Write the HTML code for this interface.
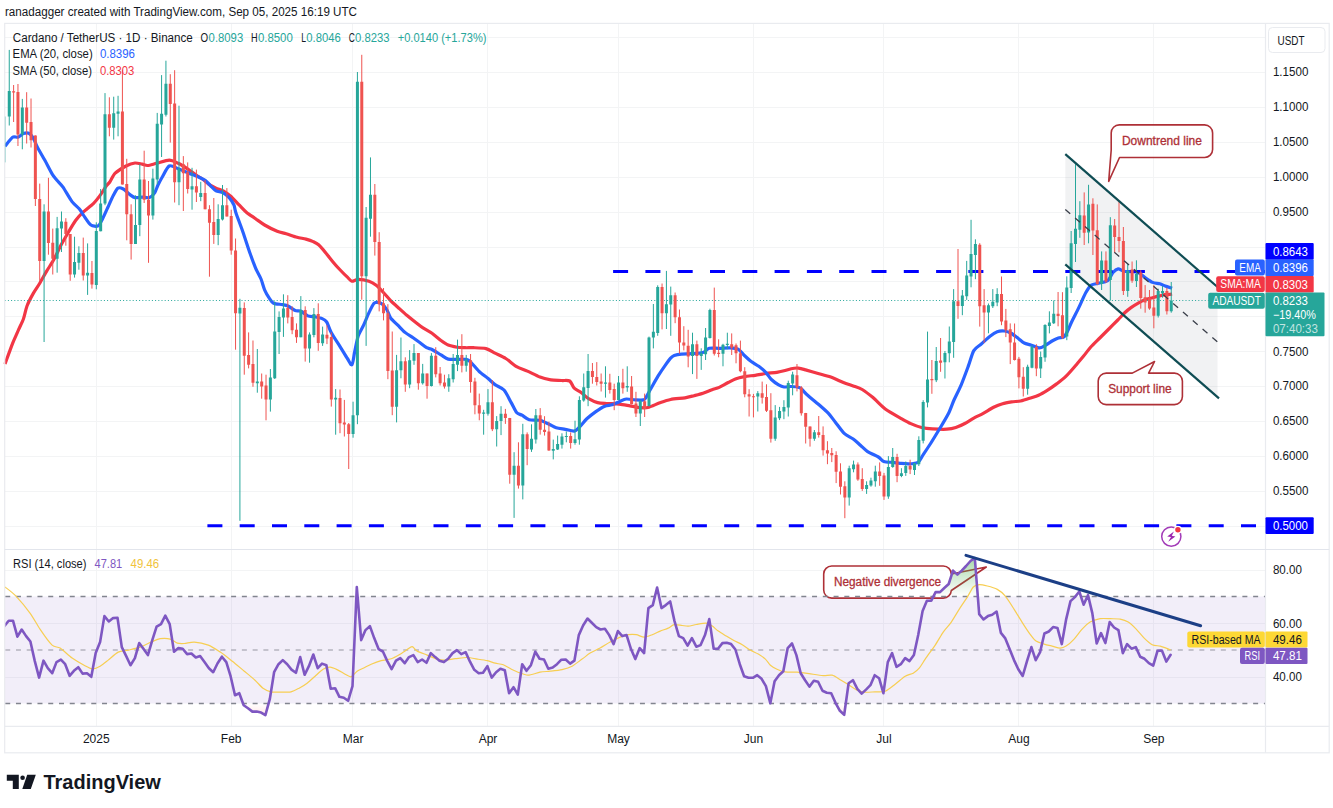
<!DOCTYPE html>
<html lang="en"><head><meta charset="utf-8"><title>ADAUSDT chart</title><style>html,body{margin:0;padding:0;background:#fff}svg{display:block}</style></head><body>
<svg width="1333" height="808" viewBox="0 0 1333 808" font-family='"Liberation Sans", "DejaVu Sans", sans-serif'>
<rect width="1333" height="808" fill="#ffffff"/>
<defs><clipPath id="plot"><rect x="5.2" y="23.4" width="1260.3" height="703.0"/></clipPath></defs>
<text x="5" y="15.6" font-size="12" fill="#131722" textLength="352" lengthAdjust="spacingAndGlyphs">ranadagger created with TradingView.com, Sep 05, 2025 16:19 UTC</text>
<g stroke="#f3f4f5" stroke-width="1" shape-rendering="crispEdges">
<line x1="4.7" y1="37.5" x2="1265.5" y2="37.5"/>
<line x1="4.7" y1="72.5" x2="1265.5" y2="72.5"/>
<line x1="4.7" y1="107.5" x2="1265.5" y2="107.5"/>
<line x1="4.7" y1="142.5" x2="1265.5" y2="142.5"/>
<line x1="4.7" y1="177.5" x2="1265.5" y2="177.5"/>
<line x1="4.7" y1="212.5" x2="1265.5" y2="212.5"/>
<line x1="4.7" y1="247.5" x2="1265.5" y2="247.5"/>
<line x1="4.7" y1="281.5" x2="1265.5" y2="281.5"/>
<line x1="4.7" y1="316.5" x2="1265.5" y2="316.5"/>
<line x1="4.7" y1="351.5" x2="1265.5" y2="351.5"/>
<line x1="4.7" y1="386.5" x2="1265.5" y2="386.5"/>
<line x1="4.7" y1="421.5" x2="1265.5" y2="421.5"/>
<line x1="4.7" y1="456.5" x2="1265.5" y2="456.5"/>
<line x1="4.7" y1="491.5" x2="1265.5" y2="491.5"/>
<line x1="4.7" y1="526.5" x2="1265.5" y2="526.5"/>
<line x1="4.7" y1="570.5" x2="1265.5" y2="570.5"/>
<line x1="4.7" y1="623.5" x2="1265.5" y2="623.5"/>
<line x1="4.7" y1="677.5" x2="1265.5" y2="677.5"/>
<line x1="96.5" y1="23.4" x2="96.5" y2="726.4"/>
<line x1="231.5" y1="23.4" x2="231.5" y2="726.4"/>
<line x1="352.5" y1="23.4" x2="352.5" y2="726.4"/>
<line x1="487.5" y1="23.4" x2="487.5" y2="726.4"/>
<line x1="618.5" y1="23.4" x2="618.5" y2="726.4"/>
<line x1="753.5" y1="23.4" x2="753.5" y2="726.4"/>
<line x1="883.5" y1="23.4" x2="883.5" y2="726.4"/>
<line x1="1018.5" y1="23.4" x2="1018.5" y2="726.4"/>
<line x1="1153.5" y1="23.4" x2="1153.5" y2="726.4"/>
</g>
<rect x="4.7" y="596.5" width="1260.8" height="107.0" fill="#7e57c2" fill-opacity="0.1"/>
<polygon points="1065.3,154.2 1217.5,287.0 1217.5,397.0 1065.3,264.4" fill="#787b86" fill-opacity="0.1"/>
<path d="M5.0 364.0C6.0 361.3 10.9 347.8 12.6 343.4C14.3 339.0 16.6 334.3 18.0 331.0C19.4 327.7 22.2 322.3 23.4 319.0C24.6 315.7 25.7 309.4 27.0 306.0C28.3 302.6 31.6 296.4 33.3 293.4C35.0 290.4 37.8 286.5 39.6 283.5C41.4 280.5 44.9 274.1 46.8 270.9C48.7 267.7 52.1 262.7 54.0 259.2C55.9 255.7 59.3 248.4 61.2 244.8C63.1 241.2 66.5 235.4 68.4 232.2C70.3 229.0 73.7 223.1 75.6 220.5C77.5 217.9 80.4 214.7 82.8 212.4C85.2 210.1 91.2 205.8 93.6 203.4C96.0 201.0 99.1 196.7 100.8 194.4C102.5 192.1 105.0 187.7 106.2 186.0C107.4 184.3 108.6 183.7 109.8 182.0C111.0 180.3 113.0 175.3 115.2 173.2C117.4 171.1 123.4 167.4 126.0 166.0C128.6 164.6 132.8 163.2 135.0 163.0C137.2 162.8 140.5 163.9 142.2 164.2C143.9 164.5 145.7 165.6 147.6 165.5C149.5 165.4 153.7 164.0 156.6 163.3C159.5 162.6 166.3 160.1 169.2 160.1C172.1 160.1 175.8 162.2 178.2 163.3C180.6 164.4 184.8 167.1 187.2 168.7C189.6 170.3 194.0 173.5 196.2 175.0C198.4 176.5 201.7 178.6 203.4 179.8C205.1 181.0 207.1 183.2 208.8 184.3C210.5 185.4 214.1 187.2 216.0 188.1C217.9 189.0 221.3 189.7 223.2 190.8C225.1 191.9 228.2 194.1 230.4 196.0C232.6 197.9 237.2 203.0 239.4 205.2C241.6 207.4 244.4 210.6 246.6 212.4C248.8 214.2 253.2 217.0 255.6 218.7C258.0 220.4 261.7 223.3 264.6 225.0C267.5 226.7 274.3 230.1 277.2 231.3C280.1 232.5 283.6 232.9 286.2 233.7C288.8 234.5 294.4 236.6 297.0 237.3C299.6 238.0 303.8 238.5 306.0 239.1C308.2 239.7 311.5 240.8 313.2 241.6C314.9 242.4 316.9 243.3 318.6 244.8C320.3 246.3 323.9 250.6 325.8 252.9C327.7 255.2 331.1 259.6 333.0 261.9C334.9 264.2 338.3 268.0 340.2 270.0C342.1 272.0 345.8 275.7 347.4 277.2C349.0 278.7 350.5 280.9 351.9 281.2C353.3 281.5 355.9 279.4 358.2 279.4C360.5 279.4 366.6 280.4 369.0 281.2C371.4 282.0 374.3 283.8 376.2 285.3C378.1 286.8 381.5 290.5 383.4 292.5C385.3 294.5 388.7 298.6 390.6 300.6C392.5 302.6 395.6 305.2 397.8 307.2C400.0 309.2 404.4 313.3 406.8 315.3C409.2 317.3 413.6 320.8 415.8 322.5C418.0 324.2 420.8 326.5 423.0 327.9C425.2 329.3 429.6 331.6 432.0 333.3C434.4 335.0 438.8 338.9 441.0 340.5C443.2 342.1 446.0 344.1 448.2 345.0C450.4 345.9 455.0 346.8 457.2 347.2C459.4 347.6 462.8 347.6 465.0 347.7C467.2 347.8 470.6 347.6 473.4 347.7C476.2 347.8 483.1 347.9 486.0 348.6C488.9 349.3 492.4 351.8 495.0 353.1C497.6 354.4 502.9 356.7 505.8 358.5C508.7 360.3 513.7 364.9 516.6 366.6C519.5 368.3 524.3 369.7 527.4 371.1C530.5 372.5 536.9 375.9 540.0 377.1C543.1 378.3 547.9 379.3 550.8 379.8C553.7 380.3 559.1 380.3 561.6 380.5C564.1 380.7 568.0 380.0 569.7 381.0C571.4 382.0 572.6 386.6 574.2 388.2C575.8 389.8 579.5 391.3 581.4 392.7C583.3 394.1 586.4 397.4 588.6 398.7C590.8 400.0 595.2 402.0 597.6 402.6C600.0 403.2 603.7 403.3 606.6 403.5C609.5 403.7 616.1 403.8 619.2 404.1C622.3 404.4 627.1 405.4 630.0 405.9C632.9 406.4 638.3 407.5 640.8 407.7C643.3 407.9 646.5 407.9 649.0 407.2C651.5 406.5 656.9 403.8 659.8 402.8C662.7 401.8 667.2 400.2 670.6 399.5C674.0 398.8 681.9 398.3 685.0 397.8C688.1 397.3 691.6 396.3 694.0 395.7C696.4 395.1 700.6 394.1 703.0 393.3C705.4 392.5 709.8 390.5 712.0 389.7C714.2 388.9 717.0 388.4 719.2 387.4C721.4 386.4 726.0 383.6 728.2 382.5C730.4 381.4 733.2 379.7 735.4 378.9C737.6 378.1 741.8 377.1 744.4 376.6C747.0 376.1 752.3 375.7 755.2 375.3C758.1 374.9 763.1 373.9 766.0 373.5C768.9 373.1 774.4 372.7 776.8 372.3C779.2 371.9 782.1 371.3 784.0 370.8C785.9 370.3 789.3 369.1 791.2 368.7C793.1 368.3 796.5 367.9 798.4 368.1C800.3 368.3 803.2 369.2 805.6 369.9C808.0 370.6 813.0 372.0 816.4 373.0C819.8 374.0 827.2 375.8 830.8 377.1C834.4 378.4 840.4 381.3 843.4 382.5C846.4 383.7 850.7 385.0 853.2 385.9C855.7 386.8 859.6 387.9 862.2 389.5C864.8 391.1 869.9 395.0 873.0 397.6C876.1 400.2 882.0 406.6 885.6 409.3C889.2 412.0 896.6 415.9 900.0 417.8C903.4 419.7 907.9 422.3 910.8 423.6C913.7 424.9 918.7 426.8 921.6 427.5C924.5 428.2 929.0 428.7 932.4 428.9C935.8 429.1 943.7 429.4 946.8 429.2C949.9 429.0 953.4 428.3 955.8 427.5C958.2 426.7 962.4 424.8 964.8 423.5C967.2 422.2 971.4 419.4 973.8 418.1C976.2 416.8 980.2 415.0 982.8 413.6C985.4 412.2 991.0 408.6 993.6 407.3C996.2 406.0 1000.2 404.4 1002.6 403.7C1005.0 403.0 1009.2 402.3 1011.6 401.9C1014.0 401.5 1018.2 401.5 1020.6 401.0C1023.0 400.5 1027.2 399.1 1029.6 398.3C1032.0 397.5 1036.2 396.4 1038.6 395.3C1041.0 394.2 1045.2 391.7 1047.6 390.2C1050.0 388.7 1054.2 385.7 1056.6 383.9C1059.0 382.1 1063.2 379.0 1065.6 376.7C1068.0 374.4 1072.2 369.6 1074.6 366.8C1077.0 364.0 1081.4 358.6 1083.6 356.0C1085.8 353.4 1088.6 349.4 1090.8 347.0C1093.0 344.6 1097.4 340.4 1099.8 338.0C1102.2 335.6 1106.4 331.4 1108.8 329.0C1111.2 326.6 1115.6 322.2 1117.8 320.0C1120.0 317.8 1123.2 314.2 1125.0 312.5C1126.8 310.8 1129.2 308.9 1131.0 307.6C1132.8 306.3 1136.3 304.2 1138.2 303.1C1140.1 302.0 1143.5 300.2 1145.4 299.5C1147.3 298.8 1150.7 298.2 1152.6 297.7C1154.5 297.2 1158.1 296.3 1159.8 295.9C1161.5 295.5 1163.6 294.9 1165.2 294.7C1166.8 294.5 1171.2 294.2 1172.1 294.1" fill="none" stroke="#f23645" stroke-width="3.2" stroke-linejoin="round" stroke-linecap="butt"/>
<path d="M5.0 146.2C6.0 145.0 10.9 138.4 12.6 137.2C14.3 136.0 16.6 137.7 18.0 137.2C19.4 136.7 22.0 134.1 23.4 133.6C24.8 133.1 27.5 132.7 28.8 133.3C30.1 133.9 32.1 136.1 33.3 138.1C34.5 140.1 36.2 145.0 37.8 148.0C39.4 151.0 43.1 157.1 45.0 160.6C46.9 164.1 50.6 171.5 52.2 174.1C53.8 176.7 55.3 178.3 56.7 180.0C58.1 181.7 61.0 184.3 63.0 187.2C65.0 190.1 69.8 198.7 72.0 201.6C74.2 204.5 77.5 206.8 79.2 208.8C80.9 210.8 83.0 214.7 84.6 216.9C86.2 219.1 89.1 223.8 90.9 225.0C92.7 226.2 96.5 226.7 98.1 225.9C99.7 225.1 101.3 221.2 102.6 218.7C103.9 216.2 106.6 210.1 108.0 207.0C109.4 203.9 112.1 197.8 113.4 195.3C114.7 192.8 116.6 188.9 117.9 188.1C119.2 187.3 121.7 188.2 123.3 189.0C124.9 189.8 128.0 193.3 129.6 194.4C131.2 195.5 133.3 197.2 135.0 197.6C136.7 198.0 140.3 197.1 142.2 197.1C144.1 197.1 147.7 198.2 149.4 197.6C151.1 197.0 153.7 194.3 154.8 192.6C155.9 190.9 157.0 187.0 158.0 185.0C159.0 183.0 160.5 180.0 162.0 177.5C163.5 175.0 167.0 167.2 169.2 166.0C171.4 164.8 175.6 167.7 178.2 168.7C180.8 169.7 186.4 172.1 189.0 173.2C191.6 174.3 195.8 175.8 198.0 176.8C200.2 177.8 203.5 179.2 205.2 180.4C206.9 181.6 209.2 184.4 210.6 185.8C212.0 187.2 214.3 189.9 216.0 190.8C217.7 191.7 221.4 191.8 223.2 192.8C225.0 193.8 228.1 196.3 229.5 198.0C230.9 199.7 233.2 203.3 234.0 205.2C234.8 207.1 234.6 208.8 235.8 212.4C237.0 216.0 241.1 226.7 243.0 232.2C244.9 237.7 248.5 249.0 250.2 253.8C251.9 258.6 254.2 264.8 255.6 268.2C257.0 271.6 259.8 276.1 261.0 279.0C262.2 281.9 263.5 287.3 264.6 289.8C265.7 292.3 267.9 296.1 269.1 297.9C270.3 299.7 271.8 302.4 273.6 303.3C275.4 304.2 280.7 304.2 282.6 304.6C284.5 305.0 286.3 305.2 288.0 306.0C289.7 306.8 293.5 309.8 295.2 310.5C296.9 311.2 298.9 310.4 300.6 311.1C302.3 311.8 305.9 315.1 307.8 315.9C309.7 316.7 313.1 316.4 315.0 316.8C316.9 317.2 320.6 317.9 322.2 318.6C323.8 319.3 325.5 320.2 326.7 322.0C327.9 323.8 329.4 329.1 331.2 332.4C333.0 335.7 338.0 343.3 340.2 346.8C342.4 350.3 345.8 356.1 347.4 358.5C349.0 360.9 350.9 365.6 351.9 364.8C352.9 364.0 353.8 356.0 354.6 352.2C355.4 348.4 357.0 339.6 358.2 336.0C359.4 332.4 362.2 328.3 363.6 325.2C365.0 322.1 367.6 315.5 369.0 312.6C370.4 309.7 372.8 304.7 374.0 303.3C375.2 301.9 376.9 302.3 378.0 302.4C379.1 302.5 381.3 303.2 382.5 304.2C383.7 305.2 385.9 308.2 387.0 310.0C388.1 311.8 389.2 316.0 390.6 318.0C392.0 320.0 395.9 323.3 397.8 325.2C399.7 327.1 403.0 330.7 405.0 332.4C407.0 334.1 411.2 336.5 413.1 337.8C415.0 339.1 417.6 341.0 419.4 342.3C421.2 343.6 424.9 346.7 426.6 347.7C428.3 348.7 430.1 348.5 432.0 349.5C433.9 350.5 438.8 353.6 441.0 354.9C443.2 356.2 446.0 358.5 448.2 359.1C450.4 359.7 454.8 359.4 457.2 359.4C459.6 359.4 464.4 359.0 466.2 359.4C468.0 359.8 469.0 360.5 470.7 362.1C472.4 363.7 476.5 368.9 478.8 371.1C481.1 373.3 485.6 376.5 487.8 378.3C490.0 380.1 492.8 383.0 495.0 384.6C497.2 386.2 501.8 387.6 504.0 390.0C506.2 392.4 509.5 399.6 511.2 402.6C512.9 405.6 515.2 410.8 516.6 412.5C518.0 414.2 520.3 414.2 522.0 415.2C523.7 416.2 526.8 419.0 529.2 419.7C531.6 420.4 537.4 419.7 540.0 420.3C542.6 420.9 546.8 423.2 549.0 424.2C551.2 425.2 554.0 427.1 556.2 427.8C558.4 428.5 562.8 428.9 565.2 429.3C567.6 429.7 572.3 431.4 574.2 431.1C576.1 430.8 577.9 428.5 579.6 426.9C581.3 425.3 584.6 420.8 586.8 418.8C589.0 416.8 593.4 413.3 595.8 411.6C598.2 409.9 602.6 407.1 604.8 406.2C607.0 405.3 610.1 405.4 612.0 404.8C613.9 404.2 617.3 402.5 619.2 401.7C621.1 400.9 624.2 399.2 626.4 399.0C628.6 398.8 633.1 399.8 635.4 399.9C637.7 400.0 642.1 400.2 643.5 399.9C644.9 399.6 645.0 399.0 646.0 397.5C647.0 396.0 649.2 391.6 650.8 388.8C652.4 386.0 656.1 379.3 658.0 376.2C659.9 373.1 663.5 367.8 665.2 365.4C666.9 363.0 669.4 359.5 670.6 358.2C671.8 356.9 672.8 356.0 674.2 355.5C675.6 355.0 679.0 354.3 681.4 354.1C683.8 353.9 689.3 353.9 692.2 353.7C695.1 353.5 700.7 353.2 703.0 352.5C705.3 351.8 707.1 348.9 709.3 348.3C711.5 347.7 716.4 348.4 719.2 348.3C722.0 348.2 727.5 347.7 730.0 347.8C732.5 347.9 736.2 348.2 738.1 349.2C740.0 350.2 742.6 353.8 744.4 355.5C746.2 357.2 749.7 360.4 751.6 361.8C753.5 363.2 756.9 364.9 758.8 366.3C760.7 367.7 764.3 370.8 766.0 372.6C767.7 374.4 769.7 377.9 771.4 379.5C773.1 381.1 776.9 383.9 778.6 384.9C780.3 385.9 782.3 386.8 784.0 387.0C785.7 387.2 789.2 386.4 791.2 386.5C793.2 386.6 797.8 387.1 799.2 387.5C800.6 387.9 800.8 388.4 802.0 389.5C803.2 390.6 805.9 393.8 808.2 395.8C810.5 397.8 816.4 402.5 819.0 404.8C821.6 407.1 825.8 410.6 828.0 412.9C830.2 415.2 833.0 419.2 835.2 421.9C837.4 424.6 841.8 431.0 844.2 433.3C846.6 435.6 851.0 437.4 853.2 439.0C855.4 440.6 858.5 443.6 860.4 445.3C862.3 447.0 865.2 450.0 867.6 451.6C870.0 453.2 876.2 455.7 878.4 457.0C880.6 458.3 881.9 460.8 883.8 461.5C885.7 462.2 890.6 462.2 892.8 462.4C895.0 462.6 897.8 463.1 900.0 463.3C902.2 463.5 906.6 464.0 909.0 463.9C911.4 463.8 916.1 463.6 918.0 462.3C919.9 461.0 921.7 456.8 923.4 454.3C925.1 451.8 928.4 446.9 930.6 443.5C932.8 440.1 937.2 432.8 939.6 428.8C942.0 424.8 946.7 417.0 948.6 413.2C950.5 409.4 952.3 403.8 954.0 400.0C955.7 396.2 959.3 389.3 961.2 384.8C963.1 380.3 966.7 370.5 968.4 365.9C970.1 361.3 972.1 353.5 973.8 350.6C975.5 347.7 978.8 346.2 981.0 344.3C983.2 342.4 987.8 337.9 990.0 336.2C992.2 334.5 995.3 332.4 997.2 331.7C999.1 331.0 1002.5 330.8 1004.4 331.0C1006.3 331.2 1009.7 332.4 1011.6 333.5C1013.5 334.6 1017.1 337.6 1018.8 338.9C1020.5 340.2 1022.5 342.2 1024.2 343.0C1025.9 343.8 1029.4 344.5 1031.4 345.2C1033.4 345.9 1037.6 347.9 1039.5 347.9C1041.4 347.9 1044.0 346.0 1045.8 345.0C1047.6 344.0 1051.3 341.4 1053.0 340.5C1054.7 339.6 1057.0 338.5 1058.4 338.0C1059.8 337.5 1062.6 337.9 1063.8 337.0C1065.0 336.1 1066.4 333.5 1067.4 331.5C1068.4 329.5 1070.1 325.2 1071.6 322.0C1073.1 318.8 1076.9 311.6 1078.8 307.6C1080.7 303.6 1084.3 295.3 1086.0 292.3C1087.7 289.3 1089.7 286.3 1091.4 285.1C1093.1 283.9 1096.4 283.9 1098.6 283.3C1100.8 282.7 1105.7 282.0 1107.6 280.6C1109.5 279.2 1111.6 274.1 1113.0 272.5C1114.4 270.9 1116.7 269.1 1118.1 268.9C1119.5 268.7 1122.1 270.8 1123.8 271.2C1125.5 271.6 1129.1 271.4 1131.0 271.6C1132.9 271.8 1136.3 271.7 1138.2 272.5C1140.1 273.3 1143.5 276.6 1145.4 277.9C1147.3 279.2 1150.7 281.6 1152.6 282.4C1154.5 283.2 1158.1 283.3 1159.8 283.8C1161.5 284.3 1163.6 285.4 1165.2 286.0C1166.8 286.6 1171.2 287.9 1172.1 288.2" fill="none" stroke="#2962ff" stroke-width="3.2" stroke-linejoin="round" stroke-linecap="butt"/>
<line x1="613.1" y1="271.5" x2="1265.5" y2="271.5" stroke="#0000ff" stroke-width="3.1" stroke-dasharray="15 17.3"/>
<line x1="207.4" y1="525.7" x2="1265.5" y2="525.7" stroke="#0000ff" stroke-width="3.1" stroke-dasharray="15 17.3"/>
<line x1="4.7" y1="300.5" x2="1265.5" y2="300.5" stroke="#26a69a" stroke-width="1" stroke-dasharray="1 2.2"/>
<path d="M4.91 116.5V162.4M9.26 49.9V125.5M22.32 98.9V149.3M44.08 204.3V342.0M57.13 216.9V272.7M61.48 211.5V252.0M74.54 236.7V277.6M78.89 246.3V269.7M87.60 243.4V294.9M96.30 222.3V289.3M100.65 189.0V231.3M105.00 93.1V205.2M113.71 96.7V139.6M118.06 95.8V136.3M135.47 195.3V243.9M139.82 164.2V236.2M152.88 168.7V219.6M157.23 112.9V184.5M161.58 75.1V157.0M165.93 60.7V116.5M178.99 105.7V205.2M192.04 167.8V209.7M200.75 181.8V201.2M218.16 204.3V245.2M222.51 185.0V220.5M239.92 298.8V520.8M257.32 349.0V392.7M270.38 369.0V411.6M274.73 301.5V379.0M279.08 311.4V354.0M283.44 294.3V336.9M300.84 296.1V337.3M309.55 332.4V362.7M313.90 308.1V337.3M322.60 326.6V345.9M335.66 389.1V434.7M353.07 401.7V437.7M357.42 72.0V424.2M366.12 207.0V345.9M370.48 157.4V236.7M396.59 354.9V422.4M400.94 337.5V378.3M409.64 350.1V388.2M414.00 344.1V364.8M422.70 363.9V384.6M431.40 353.1V386.5M448.81 374.2V391.8M453.16 354.0V382.5M457.52 339.6V371.1M466.22 354.9V371.7M483.63 409.8V434.7M487.98 389.1V415.6M496.68 416.1V446.5M501.04 406.2V435.1M514.09 452.2V517.9M522.80 423.8V499.4M531.50 424.3V451.9M535.85 409.0V443.6M553.26 439.6V459.4M557.61 435.6V450.0M561.96 433.3V448.6M566.32 431.5V442.3M575.02 420.7V444.7M579.37 396.3V444.7M583.72 373.5V401.7M588.08 354.0V406.2M605.48 366.3V397.6M618.54 376.0V400.2M627.24 366.3V391.8M640.30 399.9V426.0M649.00 336.6V406.5M653.36 304.0V348.4M657.71 285.3V335.8M666.41 270.9V329.0M670.76 286.6V335.8M692.52 332.7V374.1M701.23 348.3V369.9M705.58 328.0V360.0M709.93 308.7V338.5M722.99 343.8V366.3M727.34 332.7V349.2M757.80 391.1V411.5M775.21 405.1V440.8M779.56 406.9V420.1M783.92 400.2V419.2M788.27 380.7V416.5M792.62 371.7V395.3M814.38 430.0V440.8M849.20 465.7V505.6M853.55 460.6V472.3M866.60 481.3V493.9M870.96 477.7V486.7M875.31 465.7V486.7M888.36 456.1V498.8M892.72 448.0V467.8M901.42 468.2V477.2M905.77 461.5V475.9M914.48 462.8V475.0M918.83 436.3V466.0M923.18 400.2V443.4M927.53 331.6V407.4M936.24 347.0V382.1M944.94 351.0V378.5M949.29 326.5V362.3M953.64 289.1V357.8M962.35 290.0V315.2M966.70 260.9V299.9M971.05 219.8V287.3M975.40 239.3V279.2M988.46 303.5V333.3M992.81 289.1V308.0M997.16 288.2V306.2M1027.63 364.7V394.7M1031.98 345.2V368.3M1040.68 351.5V378.0M1045.04 324.2V361.8M1049.39 311.3V333.4M1053.74 300.5V324.0M1066.80 276.3V340.2M1071.15 231.0V293.0M1075.50 164.1V262.0M1079.85 201.2V237.8M1088.56 184.8V243.3M1101.61 251.4V290.0M1110.32 217.2V300.6M1127.72 263.7V296.8M1136.43 260.3V287.0M1158.19 288.7V317.5M1162.54 286.0V297.7M1171.24 282.0V312.7" stroke="#26a69a" stroke-width="1" fill="none"/>
<path d="M7.76 91.0h3v25.5h-3zM20.82 107.5h3v27.0h-3zM42.58 211.5h3v49.5h-3zM55.63 228.3h3v30.4h-3zM59.98 221.4h3v7.2h-3zM73.04 261.9h3v12.6h-3zM77.39 252.9h3v9.9h-3zM86.10 272.7h3v2.7h-3zM94.80 231.0h3v54.0h-3zM99.15 203.4h3v27.9h-3zM103.50 114.2h3v89.2h-3zM112.21 113.3h3v14.4h-3zM116.56 111.5h3v2.3h-3zM133.97 225.0h3v18.9h-3zM138.32 179.5h3v45.5h-3zM151.38 178.6h3v36.9h-3zM155.73 123.7h3v55.8h-3zM160.08 113.8h3v10.8h-3zM164.43 83.8h3v30.9h-3zM177.49 168.7h3v13.5h-3zM190.54 186.3h3v3.1h-3zM199.25 193.0h3v4.1h-3zM216.66 219.0h3v15.9h-3zM221.01 205.2h3v14.4h-3zM238.42 307.8h3v5.8h-3zM255.82 381.4h3v1.8h-3zM268.88 377.4h3v22.2h-3zM273.23 331.5h3v46.8h-3zM277.58 317.1h3v14.9h-3zM281.94 308.6h3v8.9h-3zM299.34 309.9h3v27.4h-3zM308.05 334.6h3v14.0h-3zM312.40 314.0h3v21.1h-3zM321.10 334.6h3v8.6h-3zM334.16 397.8h3v1.8h-3zM351.57 415.2h3v18.9h-3zM355.92 81.8h3v333.4h-3zM364.62 217.8h3v58.5h-3zM368.98 194.8h3v23.9h-3zM395.09 370.2h3v36.6h-3zM399.44 361.2h3v9.0h-3zM408.14 360.3h3v24.3h-3zM412.50 353.1h3v7.6h-3zM421.20 373.5h3v9.7h-3zM429.90 355.8h3v30.3h-3zM447.31 378.3h3v8.1h-3zM451.66 363.9h3v15.3h-3zM456.02 354.9h3v9.9h-3zM464.72 359.4h3v6.3h-3zM482.13 412.5h3v1.3h-3zM486.48 402.3h3v11.5h-3zM495.18 421.0h3v8.3h-3zM499.54 413.8h3v7.2h-3zM512.59 465.7h3v9.0h-3zM521.30 434.2h3v51.3h-3zM530.00 438.7h3v10.8h-3zM534.35 415.3h3v24.3h-3zM551.76 449.0h3v1.8h-3zM556.11 444.1h3v5.4h-3zM560.46 436.5h3v8.2h-3zM564.82 436.0h3v1.0h-3zM573.52 439.3h3v3.6h-3zM577.87 399.9h3v39.7h-3zM582.22 387.3h3v13.2h-3zM586.58 371.1h3v16.8h-3zM603.98 382.5h3v1.2h-3zM617.04 382.5h3v17.4h-3zM625.74 386.1h3v1.4h-3zM638.80 401.2h3v12.2h-3zM647.50 337.5h3v68.5h-3zM651.86 331.8h3v5.8h-3zM656.21 287.1h3v45.9h-3zM664.91 304.3h3v9.0h-3zM669.26 295.2h3v9.3h-3zM691.02 344.2h3v11.9h-3zM699.73 353.2h3v2.9h-3zM704.08 337.5h3v16.8h-3zM708.43 310.0h3v28.1h-3zM721.49 344.7h3v9.0h-3zM725.84 343.8h3v1.1h-3zM756.30 393.2h3v3.4h-3zM773.71 417.4h3v21.3h-3zM778.06 411.1h3v7.2h-3zM782.42 407.1h3v4.4h-3zM786.77 383.1h3v24.5h-3zM791.12 374.4h3v9.0h-3zM812.88 432.2h3v6.5h-3zM847.70 468.2h3v29.3h-3zM852.05 464.6h3v4.7h-3zM865.10 484.9h3v4.2h-3zM869.46 480.4h3v5.1h-3zM873.81 471.4h3v9.9h-3zM886.86 466.9h3v29.7h-3zM891.22 457.0h3v9.9h-3zM899.92 473.2h3v2.7h-3zM904.27 466.0h3v6.9h-3zM912.98 463.3h3v6.7h-3zM917.33 439.9h3v24.3h-3zM921.68 402.0h3v38.8h-3zM926.03 379.4h3v23.1h-3zM934.74 361.0h3v19.3h-3zM943.44 352.9h3v9.4h-3zM947.79 341.5h3v11.8h-3zM952.14 301.2h3v40.7h-3zM960.85 295.4h3v10.5h-3zM965.20 275.6h3v20.7h-3zM969.55 254.0h3v22.5h-3zM973.90 244.1h3v10.8h-3zM986.96 305.3h3v7.2h-3zM991.31 301.7h3v4.5h-3zM995.66 294.0h3v8.6h-3zM1026.13 366.8h3v22.0h-3zM1030.48 347.0h3v20.7h-3zM1039.18 356.9h3v11.7h-3zM1043.54 325.0h3v32.5h-3zM1047.89 322.4h3v3.6h-3zM1052.24 313.8h3v9.5h-3zM1065.30 287.5h3v49.1h-3zM1069.65 243.2h3v44.7h-3zM1074.00 228.8h3v15.3h-3zM1078.35 215.3h3v14.5h-3zM1087.06 204.6h3v27.8h-3zM1100.11 260.4h3v23.6h-3zM1108.82 225.2h3v54.8h-3zM1126.22 270.9h3v20.1h-3zM1134.93 274.0h3v7.0h-3zM1156.69 291.0h3v24.7h-3zM1161.04 291.0h3v2.2h-3zM1169.74 300.8h3v10.4h-3z" fill="#26a69a"/>
<path d="M13.61 85.0V122.0M17.96 84.0V146.0M26.67 92.2V143.5M31.02 98.5V147.5M35.37 135.4V206.0M39.72 183.6V280.8M48.43 177.8V254.7M52.78 228.6V274.5M65.84 218.2V245.7M70.19 234.0V280.8M83.24 237.6V280.5M91.95 261.0V288.6M109.36 97.3V136.3M122.41 69.7V184.5M126.76 158.8V240.3M131.12 204.3V259.6M144.17 150.7V203.0M148.52 181.0V262.8M170.28 74.2V142.6M174.64 70.2V202.5M183.34 156.1V211.0M187.69 162.4V193.5M196.40 169.6V202.0M205.10 180.0V209.3M209.45 205.2V276.7M213.80 198.0V243.9M226.86 188.1V216.5M231.21 209.7V254.7M235.56 238.5V349.7M244.27 302.4V374.7M248.62 332.4V368.4M252.97 340.5V386.8M261.68 373.5V398.7M266.03 374.7V420.3M287.79 295.2V323.4M292.14 306.3V334.2M296.49 323.4V342.9M305.20 306.3V361.6M318.25 303.3V350.8M326.96 325.2V344.1M331.31 332.4V406.6M340.01 389.5V433.2M344.36 399.9V436.5M348.72 423.0V469.0M361.77 54.8V299.7M374.83 184.0V255.6M379.18 232.2V311.4M383.53 288.0V320.4M387.88 304.2V379.2M392.24 331.5V415.2M405.29 357.3V391.8M418.35 353.1V389.7M427.05 373.5V398.7M435.76 347.2V377.4M440.11 367.0V385.5M444.46 374.7V388.6M461.87 334.2V372.4M470.57 354.0V392.7M474.92 377.8V414.3M479.28 393.6V420.3M492.33 380.1V431.1M505.39 408.9V423.9M509.74 417.9V483.7M518.44 442.3V488.6M527.15 432.4V465.2M540.20 408.1V434.6M544.56 416.2V435.6M548.91 421.6V450.8M570.67 432.4V448.6M592.43 363.0V383.7M596.78 362.1V385.5M601.13 373.5V391.5M609.84 373.8V393.6M614.19 383.7V410.2M622.89 368.8V393.6M631.60 376.0V404.5M635.95 391.8V417.0M644.65 393.6V417.0M662.06 283.5V329.4M675.12 292.5V323.2M679.47 309.5V353.7M683.82 326.2V350.4M688.17 329.8V367.3M696.88 340.6V378.9M714.28 287.6V355.5M718.64 339.3V357.3M731.69 333.4V355.0M736.04 343.5V363.3M740.40 340.6V372.3M744.75 367.2V397.3M749.10 389.2V416.5M753.45 393.9V417.4M762.16 381.6V403.6M766.51 384.3V412.0M770.86 393.2V442.6M796.97 364.0V391.4M801.32 386.1V415.6M805.68 412.9V443.5M810.03 426.4V446.6M818.73 416.0V437.6M823.08 426.4V455.6M827.44 441.2V464.2M831.79 448.0V462.1M836.14 451.3V483.1M840.49 463.3V494.5M844.84 481.3V518.2M857.90 462.4V480.8M862.25 468.2V490.9M879.66 462.4V485.8M884.01 472.9V499.9M897.07 453.8V482.2M910.12 459.7V474.1M931.88 360.0V393.8M940.59 338.0V371.8M958.00 249.0V318.8M979.76 243.2V326.6M984.11 289.1V343.0M1001.52 276.5V325.2M1005.87 308.9V337.1M1010.22 323.4V364.1M1014.57 323.5V360.5M1018.92 356.9V388.4M1023.28 367.2V396.5M1036.33 344.2V376.2M1058.09 292.0V326.3M1062.44 292.2V339.0M1084.20 192.4V245.0M1092.91 198.3V255.0M1097.26 204.4V285.3M1105.96 251.4V283.0M1114.67 219.0V252.3M1119.02 201.2V252.3M1123.37 227.0V295.0M1132.08 261.5V282.8M1140.78 270.2V308.7M1145.13 285.1V312.7M1149.48 290.0V309.8M1153.84 285.1V328.3M1166.89 287.8V314.5" stroke="#ef5350" stroke-width="1" fill="none"/>
<path d="M12.11 91.3h3v1.3h-3zM16.46 91.9h3v42.6h-3zM25.17 107.5h3v15.3h-3zM29.52 121.9h3v18.4h-3zM33.87 135.4h3v63.5h-3zM38.22 198.9h3v62.1h-3zM46.93 211.5h3v31.5h-3zM51.28 242.7h3v16.0h-3zM64.34 221.8h3v12.2h-3zM68.69 234.0h3v40.5h-3zM81.74 252.9h3v22.5h-3zM90.45 273.1h3v11.3h-3zM107.86 114.2h3v13.5h-3zM120.91 111.5h3v73.0h-3zM125.26 184.0h3v30.2h-3zM129.62 214.2h3v29.7h-3zM142.67 179.5h3v20.3h-3zM147.02 199.8h3v15.7h-3zM168.78 83.8h3v20.1h-3zM173.14 103.4h3v78.8h-3zM181.84 164.2h3v9.0h-3zM186.19 172.3h3v16.7h-3zM194.90 186.3h3v6.3h-3zM203.60 193.0h3v16.3h-3zM207.95 209.3h3v13.4h-3zM212.30 222.0h3v12.9h-3zM225.36 205.2h3v11.3h-3zM229.71 216.0h3v34.6h-3zM234.06 250.6h3v62.6h-3zM242.77 308.1h3v47.7h-3zM247.12 354.9h3v9.9h-3zM251.47 363.9h3v18.9h-3zM260.18 381.4h3v5.0h-3zM264.53 385.5h3v14.1h-3zM286.29 308.1h3v9.4h-3zM290.64 317.1h3v13.1h-3zM294.99 329.7h3v7.6h-3zM303.70 309.9h3v38.7h-3zM316.75 314.0h3v28.9h-3zM325.46 334.7h3v3.7h-3zM329.81 336.9h3v62.7h-3zM338.51 398.1h3v25.2h-3zM342.86 422.4h3v2.2h-3zM347.22 424.2h3v9.9h-3zM360.27 81.8h3v194.5h-3zM373.33 194.8h3v47.3h-3zM377.68 242.1h3v62.1h-3zM382.03 303.3h3v9.9h-3zM386.38 313.2h3v57.9h-3zM390.74 370.6h3v36.2h-3zM403.79 361.2h3v23.4h-3zM416.85 353.1h3v30.1h-3zM425.55 373.5h3v12.6h-3zM434.26 355.8h3v18.4h-3zM438.61 373.5h3v9.7h-3zM442.96 382.5h3v3.9h-3zM460.37 354.9h3v10.8h-3zM469.07 360.3h3v21.6h-3zM473.42 381.4h3v23.9h-3zM477.78 405.3h3v8.1h-3zM490.83 402.3h3v27.0h-3zM503.89 413.8h3v4.1h-3zM508.24 418.0h3v56.7h-3zM516.94 465.7h3v19.8h-3zM525.65 434.2h3v14.8h-3zM538.70 415.3h3v14.4h-3zM543.06 429.7h3v2.3h-3zM547.41 431.5h3v18.9h-3zM569.17 436.0h3v6.9h-3zM590.93 371.1h3v6.0h-3zM595.28 377.1h3v4.8h-3zM599.63 381.4h3v2.3h-3zM608.34 382.5h3v7.5h-3zM612.69 389.1h3v10.8h-3zM621.39 382.5h3v5.7h-3zM630.10 386.4h3v17.7h-3zM634.45 403.5h3v9.9h-3zM643.15 401.2h3v7.7h-3zM660.56 287.1h3v26.2h-3zM673.62 295.2h3v22.0h-3zM677.97 317.2h3v25.4h-3zM682.32 342.6h3v2.9h-3zM686.67 345.7h3v10.7h-3zM695.38 344.2h3v11.9h-3zM712.78 310.0h3v43.7h-3zM717.14 352.8h3v1.1h-3zM730.19 344.2h3v3.6h-3zM734.54 345.3h3v7.9h-3zM738.90 353.2h3v18.0h-3zM743.25 371.2h3v23.1h-3zM747.60 394.2h3v2.3h-3zM751.95 396.2h3v1.0h-3zM760.66 393.2h3v4.6h-3zM765.01 397.0h3v13.8h-3zM769.36 410.3h3v28.4h-3zM795.47 375.3h3v12.1h-3zM799.82 387.4h3v25.9h-3zM804.18 412.9h3v13.9h-3zM808.53 426.4h3v12.3h-3zM817.23 432.2h3v2.9h-3zM821.58 435.1h3v15.1h-3zM825.94 450.2h3v3.2h-3zM830.29 453.1h3v2.1h-3zM834.64 454.9h3v16.9h-3zM838.99 471.4h3v15.3h-3zM843.34 486.2h3v11.3h-3zM856.40 464.6h3v14.9h-3zM860.75 479.0h3v10.1h-3zM878.16 471.4h3v4.5h-3zM882.51 475.4h3v21.2h-3zM895.57 457.0h3v18.9h-3zM908.62 465.7h3v3.9h-3zM930.38 379.0h3v1.3h-3zM939.09 360.5h3v2.3h-3zM956.50 301.2h3v4.7h-3zM978.26 244.7h3v61.5h-3zM982.61 305.3h3v7.2h-3zM1000.02 294.0h3v27.5h-3zM1004.37 320.6h3v9.6h-3zM1008.72 329.3h3v13.2h-3zM1013.07 342.4h3v17.6h-3zM1017.42 358.7h3v18.6h-3zM1021.78 376.7h3v12.1h-3zM1034.83 347.0h3v21.6h-3zM1056.59 313.8h3v2.2h-3zM1060.94 315.2h3v22.3h-3zM1082.70 215.4h3v17.4h-3zM1091.41 203.7h3v26.9h-3zM1095.76 230.2h3v53.8h-3zM1104.46 260.4h3v21.1h-3zM1113.17 225.5h3v11.5h-3zM1117.52 237.0h3v4.0h-3zM1121.87 241.0h3v50.0h-3zM1130.58 269.4h3v11.4h-3zM1139.28 272.5h3v25.5h-3zM1143.63 297.2h3v5.4h-3zM1147.98 298.3h3v10.2h-3zM1152.34 307.6h3v8.1h-3zM1165.39 291.0h3v20.2h-3z" fill="#ef5350"/>
<line x1="1065.3" y1="154.2" x2="1217.5" y2="287.0" stroke="#0f4d54" stroke-width="2.2"/>
<line x1="1065.3" y1="264.4" x2="1219.0" y2="398.3" stroke="#0f4d54" stroke-width="2.2"/>
<line x1="1065.3" y1="209.5" x2="1217.5" y2="342.0" stroke="#3a3f4a" stroke-width="1.3" stroke-dasharray="6.5 6.5"/>
<path d="M1119.2 124.9H1204.6a8 8 0 0 1 8 8V149.5a8 8 0 0 1 -8 8H1119.5L1108.7 181.3L1111.2 150V132.9a8 8 0 0 1 8 -8z" fill="#ffffff" fill-opacity="0.7" stroke="#ae3037" stroke-width="1.6" stroke-linejoin="round"/>
<text x="1161.9" y="145.3" font-size="12" fill="#ae3037" text-anchor="middle" textLength="80" lengthAdjust="spacingAndGlyphs" stroke="#ae3037" stroke-width="0.3">Downtrend line</text>
<path d="M1106.2 373.1H1132.3L1154.6 361.5L1148.6 373.1H1174.4a8 8 0 0 1 8 8V396.6a8 8 0 0 1 -8 8H1106.2a8 8 0 0 1 -8 -8V381.1a8 8 0 0 1 8 -8z" fill="#ffffff" fill-opacity="0.7" stroke="#ae3037" stroke-width="1.6" stroke-linejoin="round"/>
<text x="1139.9" y="393.3" font-size="12" fill="#ae3037" text-anchor="middle" textLength="63.5" lengthAdjust="spacingAndGlyphs" stroke="#ae3037" stroke-width="0.3">Support line</text>
<path d="M831.7 566H943.3a8 8 0 0 1 8 8L986.3 567L951.3 590.5a8 8 0 0 1 -8 7.6H831.7a8 8 0 0 1 -8 -8V574a8 8 0 0 1 8 -8z" fill="#ffffff" fill-opacity="0.7" stroke="#ae3037" stroke-width="1.6" stroke-linejoin="round"/>
<text x="887.6" y="586.3" font-size="12" fill="#ae3037" text-anchor="middle" textLength="107" lengthAdjust="spacingAndGlyphs" stroke="#ae3037" stroke-width="0.3">Negative divergence</text>
<defs><linearGradient id="ob" gradientUnits="userSpaceOnUse" x1="0" y1="516.2" x2="0" y2="596.5"><stop offset="0" stop-color="#4caf50" stop-opacity="1"/><stop offset="1" stop-color="#4caf50" stop-opacity="0"/></linearGradient><linearGradient id="os" gradientUnits="userSpaceOnUse" x1="0" y1="703.5" x2="0" y2="783.8"><stop offset="0" stop-color="#ff5252" stop-opacity="0"/><stop offset="1" stop-color="#ff5252" stop-opacity="1"/></linearGradient><clipPath id="cob"><rect x="0" y="549.5" width="1265.5" height="47.0"/></clipPath><clipPath id="cos"><rect x="0" y="703.5" width="1265.5" height="22.9"/></clipPath></defs>
<path d="M4.3 596.5L4.3 626.1L8.7 620.7L13.0 620.7L17.4 636.7L21.7 629.5L26.1 636.1L30.4 641.5L34.8 661.1L39.1 677.6L43.5 660.7L47.8 668.2L52.2 673.2L56.5 662.1L60.9 659.7L65.2 664.2L69.6 675.8L73.9 670.8L78.3 667.2L82.6 673.6L87.0 673.2L91.3 676.8L95.7 653.1L100.1 642.1L104.4 616.1L108.8 621.5L113.1 618.1L117.5 617.7L121.8 647.1L126.2 656.1L130.5 665.2L134.9 658.1L139.2 643.1L143.6 649.1L147.9 655.1L152.3 640.1L156.6 626.7L161.0 624.1L165.3 615.7L169.7 624.1L174.0 651.7L178.4 648.1L182.7 648.7L187.1 654.1L191.4 653.5L195.8 657.5L200.1 656.1L204.5 662.1L208.9 668.2L213.2 672.2L217.6 663.2L221.9 656.7L226.3 662.1L230.6 676.2L235.0 695.2L239.3 693.2L243.7 705.2L248.0 708.2L252.4 711.6L256.7 711.6L261.1 712.6L265.4 715.2L269.8 699.2L274.1 672.2L278.5 664.2L282.8 660.1L287.2 664.2L291.5 669.6L295.9 672.8L300.2 657.1L304.6 674.8L308.9 666.2L313.3 654.5L317.7 668.2L322.0 663.6L326.4 665.2L330.7 688.8L335.1 688.2L339.4 696.8L343.8 697.8L348.1 700.8L352.5 686.2L356.8 587.0L361.2 640.1L365.5 630.1L369.9 626.1L374.2 638.1L378.6 649.1L382.9 651.5L387.3 661.1L391.6 669.2L396.0 660.7L400.3 658.1L404.7 663.2L409.0 657.1L413.4 655.1L417.7 662.1L422.1 659.5L426.5 662.8L430.8 653.1L435.2 657.1L439.5 660.7L443.9 662.1L448.2 658.7L452.6 653.1L456.9 650.1L461.3 654.1L465.6 652.1L470.0 661.7L474.3 669.8L478.7 673.2L483.0 672.8L487.4 666.2L491.7 677.6L496.1 672.2L500.4 668.8L504.8 670.2L509.1 693.2L513.5 687.2L517.8 694.6L522.2 664.2L526.5 670.8L530.9 665.2L535.3 651.7L539.6 658.7L544.0 659.5L548.3 668.8L552.7 667.6L557.0 664.2L561.4 659.7L565.7 659.5L570.1 663.6L574.4 660.7L578.8 635.1L583.1 625.5L587.5 618.5L591.8 622.7L596.2 627.1L600.5 629.5L604.9 628.7L609.2 635.1L613.6 644.1L617.9 631.1L622.3 636.1L626.6 635.1L631.0 649.1L635.3 659.1L639.7 648.1L644.1 653.1L648.4 608.1L652.8 605.1L657.1 587.6L661.5 608.1L665.8 605.1L670.2 601.5L674.5 621.1L678.9 636.1L683.2 638.1L687.6 645.7L691.9 638.1L696.3 646.7L700.6 645.1L705.0 635.1L709.3 619.1L713.7 648.7L718.0 648.7L722.4 643.1L726.7 642.7L731.1 644.1L735.4 649.5L739.8 664.2L744.1 676.2L748.5 677.8L752.9 677.8L757.2 675.2L761.6 678.8L765.9 686.2L770.3 703.2L774.6 681.2L779.0 675.2L783.3 671.2L787.7 648.1L792.0 643.5L796.4 655.1L800.7 673.2L805.1 680.2L809.4 686.6L813.8 680.8L818.1 681.8L822.5 690.8L826.8 692.8L831.2 693.2L835.5 702.8L839.9 710.8L844.2 714.8L848.6 683.2L852.9 680.2L857.3 688.8L861.7 693.6L866.0 689.6L870.4 685.2L874.7 675.2L879.1 678.2L883.4 693.2L887.8 662.1L892.1 653.1L896.5 666.8L900.8 664.2L905.2 658.1L909.5 661.1L913.9 655.1L918.2 635.1L922.6 611.1L926.9 600.7L931.3 600.7L935.6 592.1L940.0 592.1L944.3 588.0L948.7 584.0L953.0 570.6L957.4 574.6L961.7 570.6L966.1 566.0L970.5 561.0L974.8 558.0L979.2 614.1L983.5 619.5L987.9 616.1L992.2 614.7L996.6 611.5L1000.9 632.9L1005.3 638.4L1009.6 648.9L1014.0 660.1L1018.3 669.2L1022.7 676.0L1027.0 661.1L1031.4 647.1L1035.7 660.2L1040.1 652.1L1044.4 633.5L1048.8 631.5L1053.1 627.1L1057.5 628.1L1061.8 644.1L1066.2 619.1L1070.5 601.1L1074.9 597.1L1079.3 591.5L1083.6 604.7L1088.0 595.1L1092.3 613.1L1096.7 643.5L1101.0 633.1L1105.4 643.1L1109.7 622.1L1114.1 627.5L1118.4 630.1L1122.8 653.1L1127.1 644.1L1131.5 648.7L1135.8 647.1L1140.2 656.8L1144.5 658.8L1148.9 663.2L1153.2 665.6L1157.6 650.7L1161.9 650.5L1166.3 661.6L1170.6 654.8L1170.6 596.5z" fill="url(#ob)" clip-path="url(#cob)"/>
<path d="M4.3 703.5L4.3 626.1L8.7 620.7L13.0 620.7L17.4 636.7L21.7 629.5L26.1 636.1L30.4 641.5L34.8 661.1L39.1 677.6L43.5 660.7L47.8 668.2L52.2 673.2L56.5 662.1L60.9 659.7L65.2 664.2L69.6 675.8L73.9 670.8L78.3 667.2L82.6 673.6L87.0 673.2L91.3 676.8L95.7 653.1L100.1 642.1L104.4 616.1L108.8 621.5L113.1 618.1L117.5 617.7L121.8 647.1L126.2 656.1L130.5 665.2L134.9 658.1L139.2 643.1L143.6 649.1L147.9 655.1L152.3 640.1L156.6 626.7L161.0 624.1L165.3 615.7L169.7 624.1L174.0 651.7L178.4 648.1L182.7 648.7L187.1 654.1L191.4 653.5L195.8 657.5L200.1 656.1L204.5 662.1L208.9 668.2L213.2 672.2L217.6 663.2L221.9 656.7L226.3 662.1L230.6 676.2L235.0 695.2L239.3 693.2L243.7 705.2L248.0 708.2L252.4 711.6L256.7 711.6L261.1 712.6L265.4 715.2L269.8 699.2L274.1 672.2L278.5 664.2L282.8 660.1L287.2 664.2L291.5 669.6L295.9 672.8L300.2 657.1L304.6 674.8L308.9 666.2L313.3 654.5L317.7 668.2L322.0 663.6L326.4 665.2L330.7 688.8L335.1 688.2L339.4 696.8L343.8 697.8L348.1 700.8L352.5 686.2L356.8 587.0L361.2 640.1L365.5 630.1L369.9 626.1L374.2 638.1L378.6 649.1L382.9 651.5L387.3 661.1L391.6 669.2L396.0 660.7L400.3 658.1L404.7 663.2L409.0 657.1L413.4 655.1L417.7 662.1L422.1 659.5L426.5 662.8L430.8 653.1L435.2 657.1L439.5 660.7L443.9 662.1L448.2 658.7L452.6 653.1L456.9 650.1L461.3 654.1L465.6 652.1L470.0 661.7L474.3 669.8L478.7 673.2L483.0 672.8L487.4 666.2L491.7 677.6L496.1 672.2L500.4 668.8L504.8 670.2L509.1 693.2L513.5 687.2L517.8 694.6L522.2 664.2L526.5 670.8L530.9 665.2L535.3 651.7L539.6 658.7L544.0 659.5L548.3 668.8L552.7 667.6L557.0 664.2L561.4 659.7L565.7 659.5L570.1 663.6L574.4 660.7L578.8 635.1L583.1 625.5L587.5 618.5L591.8 622.7L596.2 627.1L600.5 629.5L604.9 628.7L609.2 635.1L613.6 644.1L617.9 631.1L622.3 636.1L626.6 635.1L631.0 649.1L635.3 659.1L639.7 648.1L644.1 653.1L648.4 608.1L652.8 605.1L657.1 587.6L661.5 608.1L665.8 605.1L670.2 601.5L674.5 621.1L678.9 636.1L683.2 638.1L687.6 645.7L691.9 638.1L696.3 646.7L700.6 645.1L705.0 635.1L709.3 619.1L713.7 648.7L718.0 648.7L722.4 643.1L726.7 642.7L731.1 644.1L735.4 649.5L739.8 664.2L744.1 676.2L748.5 677.8L752.9 677.8L757.2 675.2L761.6 678.8L765.9 686.2L770.3 703.2L774.6 681.2L779.0 675.2L783.3 671.2L787.7 648.1L792.0 643.5L796.4 655.1L800.7 673.2L805.1 680.2L809.4 686.6L813.8 680.8L818.1 681.8L822.5 690.8L826.8 692.8L831.2 693.2L835.5 702.8L839.9 710.8L844.2 714.8L848.6 683.2L852.9 680.2L857.3 688.8L861.7 693.6L866.0 689.6L870.4 685.2L874.7 675.2L879.1 678.2L883.4 693.2L887.8 662.1L892.1 653.1L896.5 666.8L900.8 664.2L905.2 658.1L909.5 661.1L913.9 655.1L918.2 635.1L922.6 611.1L926.9 600.7L931.3 600.7L935.6 592.1L940.0 592.1L944.3 588.0L948.7 584.0L953.0 570.6L957.4 574.6L961.7 570.6L966.1 566.0L970.5 561.0L974.8 558.0L979.2 614.1L983.5 619.5L987.9 616.1L992.2 614.7L996.6 611.5L1000.9 632.9L1005.3 638.4L1009.6 648.9L1014.0 660.1L1018.3 669.2L1022.7 676.0L1027.0 661.1L1031.4 647.1L1035.7 660.2L1040.1 652.1L1044.4 633.5L1048.8 631.5L1053.1 627.1L1057.5 628.1L1061.8 644.1L1066.2 619.1L1070.5 601.1L1074.9 597.1L1079.3 591.5L1083.6 604.7L1088.0 595.1L1092.3 613.1L1096.7 643.5L1101.0 633.1L1105.4 643.1L1109.7 622.1L1114.1 627.5L1118.4 630.1L1122.8 653.1L1127.1 644.1L1131.5 648.7L1135.8 647.1L1140.2 656.8L1144.5 658.8L1148.9 663.2L1153.2 665.6L1157.6 650.7L1161.9 650.5L1166.3 661.6L1170.6 654.8L1170.6 703.5z" fill="url(#os)" clip-path="url(#cos)"/>
<line x1="5.2" y1="596.5" x2="1265.5" y2="596.5" stroke="#82858f" stroke-width="1.3" stroke-dasharray="5 5.758"/>
<line x1="5.2" y1="703.5" x2="1265.5" y2="703.5" stroke="#82858f" stroke-width="1.3" stroke-dasharray="5 5.758"/>
<line x1="5.2" y1="650.0" x2="1265.5" y2="650.0" stroke="#787b86" stroke-opacity="0.5" stroke-width="1.3" stroke-dasharray="5 5.758"/>
<path d="M5.0 587.0C6.5 588.2 12.7 592.6 16.0 596.1C19.3 599.6 26.8 608.7 30.0 613.1C33.2 617.5 37.1 624.8 40.0 629.1C42.9 633.4 49.4 642.6 52.1 645.1C54.8 647.6 57.4 646.4 60.1 648.1C62.8 649.8 68.9 655.8 72.1 658.1C75.3 660.4 81.4 663.8 84.1 665.2C86.8 666.6 90.0 668.7 92.1 668.8C94.2 668.9 98.0 667.4 100.1 666.2C102.2 665.0 105.8 662.0 108.2 660.1C110.6 658.2 115.5 653.4 118.2 652.1C120.9 650.8 125.3 650.8 128.2 650.1C131.1 649.4 137.0 648.2 140.2 647.1C143.4 646.0 149.5 642.6 152.2 641.5C154.9 640.4 157.8 639.0 160.2 638.7C162.6 638.4 167.9 638.5 170.2 639.1C172.5 639.7 175.4 642.5 177.3 643.1C179.2 643.7 182.0 643.6 184.3 643.5C186.6 643.4 191.1 641.9 194.3 642.1C197.5 642.3 204.8 643.8 208.3 645.1C211.8 646.4 217.1 650.0 220.3 652.1C223.5 654.2 229.1 658.7 232.3 661.2C235.5 663.7 241.3 668.7 244.3 671.2C247.3 673.7 252.5 677.9 255.0 680.2C257.5 682.5 260.9 686.7 263.0 688.2C265.1 689.7 268.6 691.3 271.0 691.8C273.4 692.3 278.3 692.2 281.0 692.2C283.7 692.2 288.6 692.3 291.0 691.8C293.4 691.3 297.0 689.3 299.1 688.2C301.2 687.1 305.0 684.8 307.1 683.2C309.2 681.6 313.0 678.1 315.1 676.2C317.2 674.3 321.1 670.4 323.1 669.2C325.1 668.0 328.2 667.1 330.1 667.2C332.0 667.3 335.1 668.7 337.1 669.6C339.1 670.5 343.2 673.2 345.1 674.2C347.0 675.2 349.5 677.2 351.1 676.8C352.7 676.4 355.5 672.3 357.1 671.2C358.7 670.1 361.3 669.1 363.2 668.2C365.1 667.3 368.8 665.2 371.2 664.2C373.6 663.2 378.5 661.4 381.2 660.7C383.9 660.0 388.8 659.5 391.2 658.7C393.6 657.9 397.1 655.9 399.2 654.7C401.3 653.5 405.5 650.6 407.2 649.5C408.9 648.4 410.9 646.5 412.2 646.7C413.5 646.9 415.2 650.0 417.2 651.1C419.2 652.2 424.5 654.0 427.2 655.1C429.9 656.2 434.9 658.4 437.3 659.1C439.7 659.8 442.9 660.2 445.3 660.1C447.7 660.0 452.4 659.0 455.3 658.7C458.2 658.4 464.4 657.4 467.3 657.5C470.2 657.6 474.6 658.7 477.3 659.1C480.0 659.5 484.9 660.2 487.3 660.7C489.7 661.2 493.2 662.7 495.3 663.2C497.4 663.7 501.2 664.0 503.3 664.8C505.4 665.6 509.4 668.2 511.4 669.2C513.4 670.2 515.8 671.4 518.0 672.2C520.2 673.0 525.1 675.2 528.0 675.2C530.9 675.2 537.1 672.7 540.0 672.2C542.9 671.7 547.2 671.5 550.1 671.2C553.0 670.9 559.2 670.3 562.1 669.6C565.0 668.9 569.4 667.6 572.1 666.2C574.8 664.8 579.7 660.8 582.1 659.1C584.5 657.4 587.7 654.6 590.1 653.1C592.5 651.6 597.4 649.6 600.1 648.1C602.8 646.6 607.4 643.6 610.1 642.1C612.8 640.6 617.8 638.1 620.2 637.1C622.6 636.1 626.1 635.0 628.2 634.7C630.3 634.4 634.1 634.4 636.2 634.7C638.3 635.0 642.1 637.1 644.2 637.1C646.3 637.1 650.1 635.5 652.2 634.7C654.3 633.9 658.1 632.0 660.2 631.1C662.3 630.2 666.3 629.0 668.2 628.1C670.1 627.2 672.3 625.0 674.2 624.7C676.1 624.4 680.3 625.3 682.2 625.5C684.1 625.7 686.3 626.2 688.2 626.1C690.1 626.0 693.9 624.9 696.3 624.5C698.7 624.1 704.2 622.9 706.3 623.1C708.4 623.3 710.7 625.0 712.3 626.1C713.9 627.2 716.4 629.8 718.3 631.1C720.2 632.4 724.2 634.8 726.3 636.1C728.4 637.4 732.2 639.6 734.3 640.7C736.4 641.8 740.2 643.4 742.3 644.7C744.4 646.0 748.2 648.8 750.3 650.1C752.4 651.4 756.3 652.9 758.3 654.1C760.3 655.3 763.8 657.6 765.4 659.1C767.0 660.6 768.9 663.9 770.4 665.2C771.9 666.5 775.1 668.3 777.0 669.2C778.9 670.1 782.3 671.4 785.0 671.8C787.7 672.2 793.8 672.0 797.0 672.2C800.2 672.4 805.6 673.1 809.1 673.6C812.6 674.1 820.0 675.4 823.1 675.6C826.2 675.8 829.7 674.6 832.1 675.2C834.5 675.8 838.8 678.9 841.1 680.2C843.4 681.5 847.0 683.9 849.1 685.2C851.2 686.5 855.0 689.3 857.1 690.2C859.2 691.1 862.7 692.0 865.1 692.2C867.5 692.4 872.5 691.9 875.2 691.8C877.9 691.7 882.5 692.2 885.2 691.2C887.9 690.2 892.5 686.2 895.2 684.2C897.9 682.2 902.8 677.7 905.2 676.2C907.6 674.7 911.3 674.3 913.2 673.2C915.1 672.1 917.6 670.1 919.2 668.2C920.8 666.3 923.1 662.2 925.2 659.1C927.3 656.0 932.8 648.7 935.2 645.1C937.6 641.5 941.1 635.2 943.2 632.1C945.3 629.0 949.2 625.2 951.3 622.1C953.4 619.0 957.2 612.4 959.3 609.1C961.4 605.8 965.4 600.0 967.3 597.1C969.2 594.2 971.7 588.7 973.3 587.0C974.9 585.3 977.4 584.7 979.3 584.6C981.2 584.5 984.9 585.4 987.3 586.0C989.7 586.6 994.9 588.1 997.3 589.4C999.7 590.7 1003.1 593.5 1005.3 596.1C1007.5 598.7 1011.8 605.6 1014.0 609.1C1016.2 612.6 1019.9 618.8 1022.0 622.1C1024.1 625.4 1028.1 631.6 1030.0 634.1C1031.9 636.6 1034.1 639.8 1036.0 641.1C1037.9 642.4 1042.0 643.4 1044.1 644.1C1046.2 644.8 1050.0 645.6 1052.1 646.1C1054.2 646.6 1058.2 648.1 1060.1 648.1C1062.0 648.1 1064.2 647.3 1066.1 646.1C1068.0 644.9 1072.0 641.4 1074.1 639.1C1076.2 636.8 1080.0 631.4 1082.1 629.1C1084.2 626.8 1087.7 623.5 1090.1 622.1C1092.5 620.7 1097.4 619.2 1100.1 618.7C1102.8 618.2 1107.5 618.6 1110.2 618.7C1112.9 618.8 1117.8 618.6 1120.2 619.1C1122.6 619.6 1126.1 620.8 1128.2 622.1C1130.3 623.4 1134.1 627.0 1136.2 629.1C1138.3 631.2 1142.1 636.0 1144.2 638.1C1146.3 640.2 1150.1 643.6 1152.2 644.7C1154.3 645.8 1158.3 645.6 1160.2 646.1C1162.1 646.6 1164.8 647.6 1166.2 648.1C1167.6 648.6 1170.0 649.8 1170.6 650.1" fill="none" stroke="#f7ce52" stroke-width="1.2" stroke-linejoin="round" stroke-linecap="butt"/>
<polyline points="4.3,626.1 8.7,620.7 13.0,620.7 17.4,636.7 21.7,629.5 26.1,636.1 30.4,641.5 34.8,661.1 39.1,677.6 43.5,660.7 47.8,668.2 52.2,673.2 56.5,662.1 60.9,659.7 65.2,664.2 69.6,675.8 73.9,670.8 78.3,667.2 82.6,673.6 87.0,673.2 91.3,676.8 95.7,653.1 100.1,642.1 104.4,616.1 108.8,621.5 113.1,618.1 117.5,617.7 121.8,647.1 126.2,656.1 130.5,665.2 134.9,658.1 139.2,643.1 143.6,649.1 147.9,655.1 152.3,640.1 156.6,626.7 161.0,624.1 165.3,615.7 169.7,624.1 174.0,651.7 178.4,648.1 182.7,648.7 187.1,654.1 191.4,653.5 195.8,657.5 200.1,656.1 204.5,662.1 208.9,668.2 213.2,672.2 217.6,663.2 221.9,656.7 226.3,662.1 230.6,676.2 235.0,695.2 239.3,693.2 243.7,705.2 248.0,708.2 252.4,711.6 256.7,711.6 261.1,712.6 265.4,715.2 269.8,699.2 274.1,672.2 278.5,664.2 282.8,660.1 287.2,664.2 291.5,669.6 295.9,672.8 300.2,657.1 304.6,674.8 308.9,666.2 313.3,654.5 317.7,668.2 322.0,663.6 326.4,665.2 330.7,688.8 335.1,688.2 339.4,696.8 343.8,697.8 348.1,700.8 352.5,686.2 356.8,587.0 361.2,640.1 365.5,630.1 369.9,626.1 374.2,638.1 378.6,649.1 382.9,651.5 387.3,661.1 391.6,669.2 396.0,660.7 400.3,658.1 404.7,663.2 409.0,657.1 413.4,655.1 417.7,662.1 422.1,659.5 426.5,662.8 430.8,653.1 435.2,657.1 439.5,660.7 443.9,662.1 448.2,658.7 452.6,653.1 456.9,650.1 461.3,654.1 465.6,652.1 470.0,661.7 474.3,669.8 478.7,673.2 483.0,672.8 487.4,666.2 491.7,677.6 496.1,672.2 500.4,668.8 504.8,670.2 509.1,693.2 513.5,687.2 517.8,694.6 522.2,664.2 526.5,670.8 530.9,665.2 535.3,651.7 539.6,658.7 544.0,659.5 548.3,668.8 552.7,667.6 557.0,664.2 561.4,659.7 565.7,659.5 570.1,663.6 574.4,660.7 578.8,635.1 583.1,625.5 587.5,618.5 591.8,622.7 596.2,627.1 600.5,629.5 604.9,628.7 609.2,635.1 613.6,644.1 617.9,631.1 622.3,636.1 626.6,635.1 631.0,649.1 635.3,659.1 639.7,648.1 644.1,653.1 648.4,608.1 652.8,605.1 657.1,587.6 661.5,608.1 665.8,605.1 670.2,601.5 674.5,621.1 678.9,636.1 683.2,638.1 687.6,645.7 691.9,638.1 696.3,646.7 700.6,645.1 705.0,635.1 709.3,619.1 713.7,648.7 718.0,648.7 722.4,643.1 726.7,642.7 731.1,644.1 735.4,649.5 739.8,664.2 744.1,676.2 748.5,677.8 752.9,677.8 757.2,675.2 761.6,678.8 765.9,686.2 770.3,703.2 774.6,681.2 779.0,675.2 783.3,671.2 787.7,648.1 792.0,643.5 796.4,655.1 800.7,673.2 805.1,680.2 809.4,686.6 813.8,680.8 818.1,681.8 822.5,690.8 826.8,692.8 831.2,693.2 835.5,702.8 839.9,710.8 844.2,714.8 848.6,683.2 852.9,680.2 857.3,688.8 861.7,693.6 866.0,689.6 870.4,685.2 874.7,675.2 879.1,678.2 883.4,693.2 887.8,662.1 892.1,653.1 896.5,666.8 900.8,664.2 905.2,658.1 909.5,661.1 913.9,655.1 918.2,635.1 922.6,611.1 926.9,600.7 931.3,600.7 935.6,592.1 940.0,592.1 944.3,588.0 948.7,584.0 953.0,570.6 957.4,574.6 961.7,570.6 966.1,566.0 970.5,561.0 974.8,558.0 979.2,614.1 983.5,619.5 987.9,616.1 992.2,614.7 996.6,611.5 1000.9,632.9 1005.3,638.4 1009.6,648.9 1014.0,660.1 1018.3,669.2 1022.7,676.0 1027.0,661.1 1031.4,647.1 1035.7,660.2 1040.1,652.1 1044.4,633.5 1048.8,631.5 1053.1,627.1 1057.5,628.1 1061.8,644.1 1066.2,619.1 1070.5,601.1 1074.9,597.1 1079.3,591.5 1083.6,604.7 1088.0,595.1 1092.3,613.1 1096.7,643.5 1101.0,633.1 1105.4,643.1 1109.7,622.1 1114.1,627.5 1118.4,630.1 1122.8,653.1 1127.1,644.1 1131.5,648.7 1135.8,647.1 1140.2,656.8 1144.5,658.8 1148.9,663.2 1153.2,665.6 1157.6,650.7 1161.9,650.5 1166.3,661.6 1170.6,654.8" fill="none" stroke="#7e57c2" stroke-width="2.6" stroke-linejoin="round" stroke-linecap="round" clip-path="url(#plot)"/>
<line x1="966" y1="555.4" x2="1200.6" y2="625.7" stroke="#1c3f86" stroke-width="3" stroke-linecap="round"/>
<g stroke="#e9ebef" stroke-width="1.2" fill="none">
<rect x="4.7" y="23.4" width="1324.5" height="729.4"/>
<line x1="1265.5" y1="23.4" x2="1265.5" y2="752.8"/>
<line x1="4.7" y1="726.4" x2="1329.2" y2="726.4"/>
<line x1="4.7" y1="549.5" x2="1329.2" y2="549.5" stroke="#e2e5ec"/>
</g>
<text x="1272.9" y="76.30000000000005" font-size="12" fill="#131722" textLength="35.5" lengthAdjust="spacingAndGlyphs">1.1500</text>
<text x="1272.9" y="111.19999999999992" font-size="12" fill="#131722" textLength="35.5" lengthAdjust="spacingAndGlyphs">1.1000</text>
<text x="1272.9" y="146.09999999999997" font-size="12" fill="#131722" textLength="35.5" lengthAdjust="spacingAndGlyphs">1.0500</text>
<text x="1272.9" y="181.0" font-size="12" fill="#131722" textLength="35.5" lengthAdjust="spacingAndGlyphs">1.0000</text>
<text x="1272.9" y="215.90000000000003" font-size="12" fill="#131722" textLength="35.5" lengthAdjust="spacingAndGlyphs">0.9500</text>
<text x="1272.9" y="355.5" font-size="12" fill="#131722" textLength="35.5" lengthAdjust="spacingAndGlyphs">0.7500</text>
<text x="1272.9" y="390.40000000000003" font-size="12" fill="#131722" textLength="35.5" lengthAdjust="spacingAndGlyphs">0.7000</text>
<text x="1272.9" y="425.3" font-size="12" fill="#131722" textLength="35.5" lengthAdjust="spacingAndGlyphs">0.6500</text>
<text x="1272.9" y="460.2" font-size="12" fill="#131722" textLength="35.5" lengthAdjust="spacingAndGlyphs">0.6000</text>
<text x="1272.9" y="495.09999999999997" font-size="12" fill="#131722" textLength="35.5" lengthAdjust="spacingAndGlyphs">0.5500</text>
<text x="1272.9" y="574.05" font-size="12" fill="#131722" textLength="29" lengthAdjust="spacingAndGlyphs">80.00</text>
<text x="1272.9" y="627.55" font-size="12" fill="#131722" textLength="29" lengthAdjust="spacingAndGlyphs">60.00</text>
<text x="1272.9" y="681.05" font-size="12" fill="#131722" textLength="29" lengthAdjust="spacingAndGlyphs">40.00</text>
<rect x="1268.5" y="27.5" width="56.5" height="25" rx="4" fill="#ffffff" stroke="#e9ebef"/>
<text x="1277.5" y="45.1" font-size="12" fill="#131722" textLength="27" lengthAdjust="spacingAndGlyphs">USDT</text>
<rect x="1265.5" y="243" width="48.200000000000045" height="16.69999999999999" fill="#0000ff" rx="1"/>
<text x="1272.9" y="255.65" font-size="12" fill="#ffffff" textLength="35" lengthAdjust="spacingAndGlyphs">0.8643</text>
<rect x="1265.5" y="517.3" width="48.200000000000045" height="16.700000000000045" fill="#0000ff" rx="1"/>
<text x="1272.9" y="529.9499999999999" font-size="12" fill="#ffffff" textLength="35" lengthAdjust="spacingAndGlyphs">0.5000</text>
<rect x="1235" y="259.5" width="29.799999999999955" height="16.0" fill="#2962ff" rx="2"/>
<text x="1239.3" y="271.8" font-size="12" fill="#ffffff" textLength="21.5" lengthAdjust="spacingAndGlyphs">EMA</text>
<rect x="1265.5" y="259.5" width="48.200000000000045" height="16.399999999999977" fill="#2962ff" rx="1"/>
<text x="1272.9" y="272.0" font-size="12" fill="#ffffff" textLength="35" lengthAdjust="spacingAndGlyphs">0.8396</text>
<rect x="1216.2" y="276.3" width="48.59999999999991" height="15.699999999999989" fill="#f23645" rx="2"/>
<text x="1220.3" y="288.45" font-size="12" fill="#ffffff" textLength="40.5" lengthAdjust="spacingAndGlyphs">SMA:MA</text>
<rect x="1265.5" y="276" width="48.200000000000045" height="16.399999999999977" fill="#f23645" rx="1"/>
<text x="1272.9" y="288.5" font-size="12" fill="#ffffff" textLength="35" lengthAdjust="spacingAndGlyphs">0.8303</text>
<rect x="1208.2" y="292.7" width="56.59999999999991" height="16.0" fill="#26a69a" rx="2"/>
<text x="1212.4" y="305.0" font-size="12" fill="#ffffff" textLength="48.5" lengthAdjust="spacingAndGlyphs">ADAUSDT</text>
<rect x="1265.5" y="292.5" width="59.0" height="43.7" fill="#26a69a" rx="1"/>
<text x="1272.9" y="304.9" font-size="12" fill="#ffffff" textLength="35" lengthAdjust="spacingAndGlyphs">0.8233</text>
<text x="1272.9" y="319.3" font-size="12" fill="#ffffff" textLength="43" lengthAdjust="spacingAndGlyphs">−19.40%</text>
<text x="1272.9" y="333.2" font-size="12" fill="#ffffff" textLength="45" lengthAdjust="spacingAndGlyphs" fill-opacity="0.72">07:40:33</text>
<rect x="1187.3" y="631.4" width="77.5" height="16.200000000000045" fill="#fdd835" rx="2"/>
<text x="1191.6" y="643.8" font-size="12" fill="#131722" textLength="69" lengthAdjust="spacingAndGlyphs">RSI-based MA</text>
<rect x="1265.5" y="631.4" width="42.0" height="16.200000000000045" fill="#fdd835" rx="1"/>
<text x="1272.9" y="643.8" font-size="12" fill="#131722" textLength="29" lengthAdjust="spacingAndGlyphs">49.46</text>
<rect x="1240" y="647.8" width="24.799999999999955" height="16.100000000000023" fill="#7e57c2" rx="2"/>
<text x="1244.6" y="660.1499999999999" font-size="12" fill="#ffffff" textLength="15.5" lengthAdjust="spacingAndGlyphs">RSI</text>
<rect x="1265.5" y="647.8" width="42.0" height="16.100000000000023" fill="#7e57c2" rx="1"/>
<text x="1272.9" y="660.1499999999999" font-size="12" fill="#ffffff" textLength="29" lengthAdjust="spacingAndGlyphs">47.81</text>
<text x="96.3" y="743.3" font-size="12" fill="#131722" text-anchor="middle">2025</text>
<text x="231.212" y="743.3" font-size="12" fill="#131722" text-anchor="middle">Feb</text>
<text x="353.06800000000004" y="743.3" font-size="12" fill="#131722" text-anchor="middle">Mar</text>
<text x="487.98" y="743.3" font-size="12" fill="#131722" text-anchor="middle">Apr</text>
<text x="618.54" y="743.3" font-size="12" fill="#131722" text-anchor="middle">May</text>
<text x="753.452" y="743.3" font-size="12" fill="#131722" text-anchor="middle">Jun</text>
<text x="884.0120000000001" y="743.3" font-size="12" fill="#131722" text-anchor="middle">Jul</text>
<text x="1018.924" y="743.3" font-size="12" fill="#131722" text-anchor="middle">Aug</text>
<text x="1153.836" y="743.3" font-size="12" fill="#131722" text-anchor="middle">Sep</text>
<text x="12.8" y="41.5" font-size="12" fill="#131722" textLength="180" lengthAdjust="spacingAndGlyphs">Cardano / TetherUS · 1D · Binance</text>
<text x="200.5" y="41.5" font-size="12" fill="#131722" textLength="7.6" lengthAdjust="spacingAndGlyphs">O</text>
<text x="208.6" y="41.5" font-size="12" fill="#26a69a" textLength="34.6" lengthAdjust="spacingAndGlyphs">0.8093</text>
<text x="250.9" y="41.5" font-size="12" fill="#131722" textLength="6.6" lengthAdjust="spacingAndGlyphs">H</text>
<text x="257.9" y="41.5" font-size="12" fill="#26a69a" textLength="34.9" lengthAdjust="spacingAndGlyphs">0.8500</text>
<text x="301.2" y="41.5" font-size="12" fill="#131722" textLength="4.8" lengthAdjust="spacingAndGlyphs">L</text>
<text x="306.3" y="41.5" font-size="12" fill="#26a69a" textLength="34.5" lengthAdjust="spacingAndGlyphs">0.8046</text>
<text x="348.8" y="41.5" font-size="12" fill="#131722" textLength="6.1" lengthAdjust="spacingAndGlyphs">C</text>
<text x="355.1" y="41.5" font-size="12" fill="#26a69a" textLength="34.5" lengthAdjust="spacingAndGlyphs">0.8233</text>
<text x="397.7" y="41.5" font-size="12" fill="#26a69a" textLength="88.8" lengthAdjust="spacingAndGlyphs">+0.0140 (+1.73%)</text>
<text x="12.6" y="58.3" font-size="12" fill="#131722" textLength="80.1" lengthAdjust="spacingAndGlyphs">EMA (20, close)</text>
<text x="99.9" y="58.3" font-size="12" fill="#2962ff" textLength="35.1" lengthAdjust="spacingAndGlyphs">0.8396</text>
<text x="12.6" y="75.1" font-size="12" fill="#131722" textLength="79.4" lengthAdjust="spacingAndGlyphs">SMA (50, close)</text>
<text x="99.9" y="75.1" font-size="12" fill="#f23645" textLength="34.5" lengthAdjust="spacingAndGlyphs">0.8303</text>
<text x="13" y="567.9" font-size="12" fill="#131722" textLength="73.5" lengthAdjust="spacingAndGlyphs">RSI (14, close)</text>
<text x="94.6" y="567.9" font-size="12" fill="#7e57c2" textLength="27.6" lengthAdjust="spacingAndGlyphs">47.81</text>
<text x="130.6" y="567.9" font-size="12" fill="#f0c33c" textLength="28.6" lengthAdjust="spacingAndGlyphs">49.46</text>
<circle cx="1171.3" cy="536.6" r="9.6" fill="none" stroke="#a23bb8" stroke-width="1.5"/>
<path d="M1173.9 531.6L1167.2 536.5L1171 537L1168.2 541.7L1175.4 536.4L1171.8 535.8z" fill="#9c27b0"/>
<circle cx="1177.9" cy="529.8" r="4" fill="#ffffff"/><circle cx="1177.9" cy="529.8" r="2.7" fill="#f23645"/>
<g fill="#131722">
<path d="M6.8 774.7H18.8V789H12.8V780.7H6.8z"/>
<circle cx="22.6" cy="777.8" r="2.3"/>
<path d="M27.2 774.7H35.8L30.8 789H22.3z"/>
</g>
<text x="43.5" y="789" font-size="20" fill="#131722" textLength="117.3" lengthAdjust="spacingAndGlyphs" font-weight="bold">TradingView</text>
</svg>
</body></html>
